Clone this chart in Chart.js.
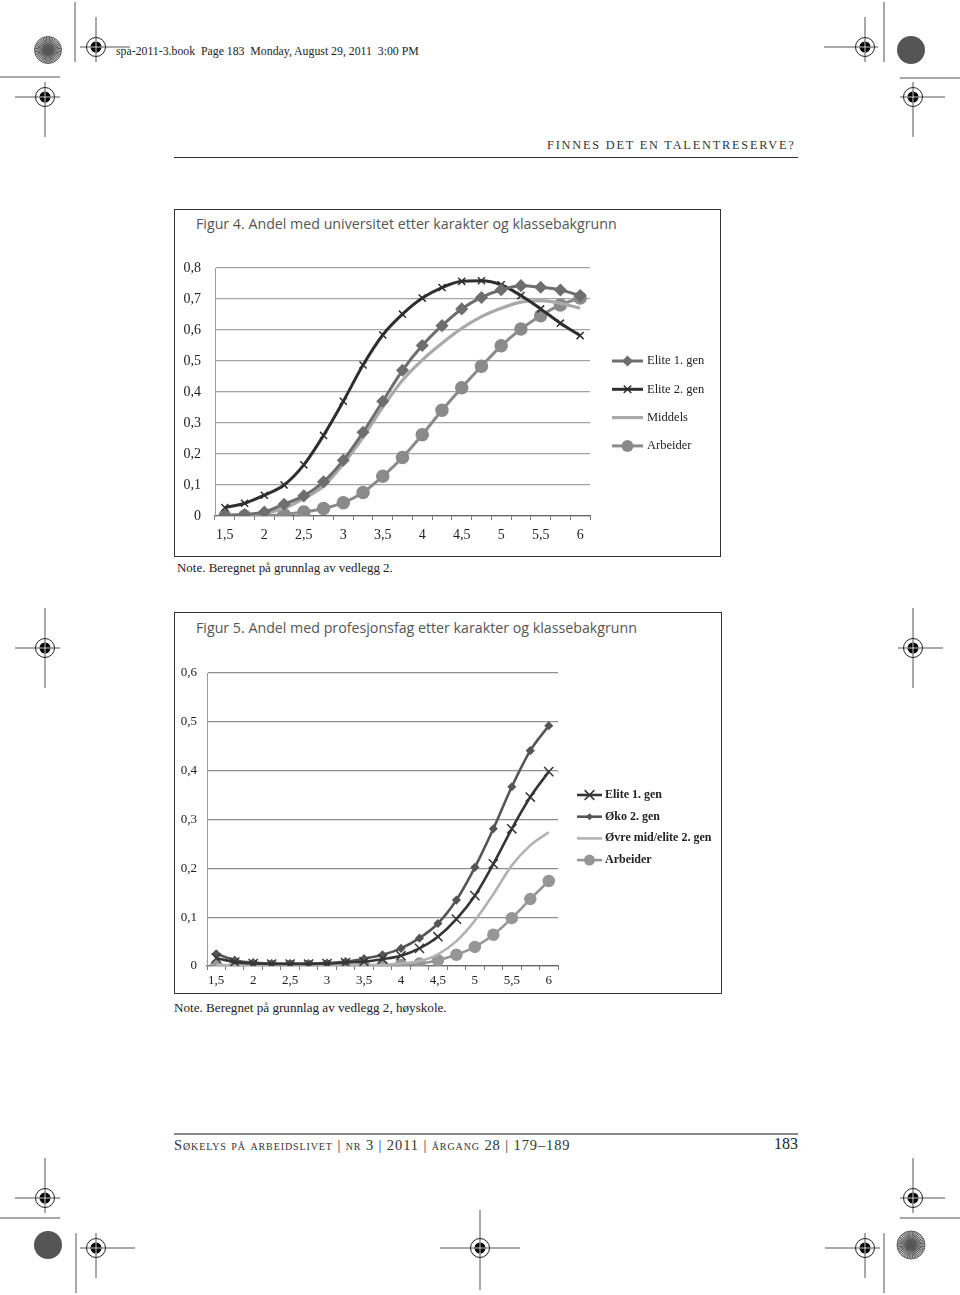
<!DOCTYPE html>
<html>
<head>
<meta charset="utf-8">
<script src="https://cdn.jsdelivr.net/npm/chart.js@4/dist/chart.umd.min.js"></script>
<style>
  html,body{margin:0;padding:0;background:#fff;}
  #page{position:relative;width:960px;height:1295px;overflow:hidden;background:#fff;}
  .t{position:absolute;white-space:pre;line-height:1;display:inline-block;}
  .serif{font-family:"Liberation Serif","DejaVu Serif",serif;color:#222;}
  .sans{font-family:"Open Sans","Liberation Sans",sans-serif;color:#555;}
  .box{position:absolute;border:1px solid #333;box-sizing:border-box;}
  .rule{position:absolute;height:0;}
  canvas{position:absolute;}
  svg{position:absolute;left:0;top:0;}
</style>
</head>
<body>
<div id="page">
  <svg id="marks" width="960" height="1295"></svg>

  <span class="t serif" id="hdr" data-x="116" data-cy="53" data-w="303" style="font-size:12px;">spa-2011-3.book  Page 183  Monday, August 29, 2011  3:00 PM</span>
  <span class="t serif" id="run" data-x="547" data-cy="146" data-w="250" style="font-size:12px;letter-spacing:1.8px;color:#333;">FINNES DET EN TALENTRESERVE?</span>
  <div class="rule" style="left:174px;top:157px;width:624px;border-top:1px solid #333;"></div>

  <div class="box" style="left:174px;top:209px;width:547px;height:348px;"></div>
  <span class="t sans" data-x="196" data-cy="225" data-w="421" style="font-size:15px;">Figur 4. Andel med universitet etter karakter og klassebakgrunn</span>
  <canvas id="c1" style="left:175px;top:240px;width:544px;height:312px;" width="544" height="312"></canvas>
  <span class="t serif" data-x="177" data-cy="569" data-w="216" style="font-size:13px;">Note. Beregnet på grunnlag av vedlegg 2.</span>

  <div class="box" style="left:174px;top:612px;width:548px;height:382px;"></div>
  <span class="t sans" data-x="196" data-cy="629" data-w="441" style="font-size:15px;">Figur 5. Andel med profesjonsfag etter karakter og klassebakgrunn</span>
  <canvas id="c2" style="left:175px;top:645px;width:545px;height:346px;" width="545" height="346"></canvas>
  <span class="t serif" data-x="174" data-cy="1009" data-w="273" style="font-size:13px;">Note. Beregnet på grunnlag av vedlegg 2, høyskole.</span>

  <div class="rule" style="left:174px;top:1133px;width:624px;border-top:2px solid #888;"></div>
  <span class="t serif" data-x="174" data-cy="1146" data-w="403" style="font-size:13px;letter-spacing:0.9px;font-variant:small-caps;color:#333;">Søkelys på arbeidslivet | nr 3 | 2011 | årgang 28 | 179–189</span>
  <span class="t serif" data-x="774" data-cy="1145" data-w="24" style="font-size:16px;color:#222;">183</span>
</div>

<script>
// ---------- DATA ----------
const grades = ['1,5','1,75','2','2,25','2,5','2,75','3','3,25','3,5','3,75','4','4,25','4,5','4,75','5','5,25','5,5','5,75','6'];
const yTicks1 = [0,0.1,0.2,0.3,0.4,0.5,0.6,0.7,0.8];
const yTicks2 = [0,0.1,0.2,0.3,0.4,0.5,0.6];

// Figur 4 (universitet)
const fig4Labels = ['Elite 1. gen','Elite 2. gen','Middels','Arbeider'];
const fig4Elite1 = [0.002,0.005,0.013,0.038,0.065,0.110,0.180,0.270,0.370,0.470,0.550,0.614,0.668,0.705,0.730,0.743,0.738,0.729,0.711];
const fig4Elite2 = [0.027,0.041,0.067,0.100,0.165,0.260,0.370,0.487,0.584,0.651,0.703,0.737,0.757,0.759,0.746,0.711,0.668,0.622,0.582];
const fig4Middels = [0.002,0.004,0.009,0.025,0.056,0.097,0.168,0.254,0.351,0.438,0.503,0.557,0.605,0.643,0.670,0.690,0.695,0.686,0.670];
const fig4Arbeider = [0.000,0.000,0.000,0.005,0.013,0.024,0.043,0.076,0.128,0.189,0.262,0.341,0.414,0.483,0.549,0.603,0.646,0.681,0.703];

// Figur 5 (profesjonsfag)
const fig5Labels = ['Elite 1. gen','Øko 2. gen','Øvre mid/elite 2. gen','Arbeider'];
const fig5Elite1 = [0.016,0.008,0.005,0.004,0.004,0.004,0.005,0.007,0.009,0.014,0.021,0.036,0.060,0.096,0.144,0.209,0.281,0.346,0.398];
const fig5Oko2 = [0.025,0.012,0.007,0.005,0.005,0.005,0.006,0.009,0.015,0.023,0.036,0.057,0.087,0.135,0.202,0.281,0.367,0.441,0.492];
const fig5Ovre = [0.002,0.002,0.002,0.002,0.002,0.002,0.002,0.002,0.002,0.003,0.005,0.010,0.024,0.051,0.093,0.147,0.206,0.247,0.274];
const fig5Arbeider = [0.000,0.000,0.000,0.000,0.000,0.000,0.000,0.000,0.000,0.000,0.002,0.005,0.012,0.023,0.039,0.064,0.098,0.137,0.174];

// ---------- page text fitting ----------
document.querySelectorAll('.t').forEach(el=>{
  const w = parseFloat(el.dataset.w);
  const fs = parseFloat(el.style.fontSize);
  const cur = el.getBoundingClientRect().width;
  if (cur>0) el.style.fontSize = (fs*w/cur).toFixed(2)+'px';
  const h = el.getBoundingClientRect().height;
  el.style.left = el.dataset.x+'px';
  el.style.top = (parseFloat(el.dataset.cy)-h/2-1)+'px';
});

// ---------- registration marks ----------
(function(){
  const svg = document.getElementById('marks');
  const NS='http://www.w3.org/2000/svg';
  function add(tag, attrs){const e=document.createElementNS(NS,tag);for(const k in attrs)e.setAttribute(k,attrs[k]);svg.appendChild(e);return e;}
  function line(x1,y1,x2,y2){add('line',{x1,y1,x2,y2,stroke:'#555','stroke-width':1});}
  function target(cx,cy,h1,h2,v1,v2){
    line(h1,cy,h2,cy); line(cx,v1,cx,v2);
    add('circle',{cx,cy,r:9.5,fill:'none',stroke:'#222','stroke-width':1});
    add('circle',{cx,cy,r:5.5,fill:'#000'});
    add('line',{x1:cx-5.5,y1:cy,x2:cx+5.5,y2:cy,stroke:'#fff','stroke-width':0.8});
    add('line',{x1:cx,y1:cy-5.5,x2:cx,y2:cy+5.5,stroke:'#fff','stroke-width':0.8});
  }
  function star(cx,cy,r){
    add('circle',{cx,cy,r,fill:'#ddd',stroke:'#666','stroke-width':1});
    for(let i=0;i<48;i++){const a=i*Math.PI/24;line(cx,cy,cx+r*Math.cos(a),cy+r*Math.sin(a));}
  }
  function dot(cx,cy,r){add('circle',{cx,cy,r,fill:'#555'});}
  star(48,50,13.5); line(75,2,75,62); line(0,77,60,77);
  target(96,47,80,130,17,62); target(45,97,15,60,82,137);
  target(865,47,824,878,17,62); line(884,2,884,62); dot(911,50,14);
  line(900,78,960,78); target(913,97,900,945,82,137);
  target(45,648,15,60,608,688); target(913,648,898,943,608,688);
  target(45,1198,15,60,1158,1213); line(0,1218,60,1218); dot(48,1245,14);
  line(76,1233,76,1293); target(96,1248,80,135,1233,1278);
  target(480,1248,440,520,1210,1290);
  target(865,1248,825,880,1233,1278); line(884,1233,884,1293); star(911,1245,14);
  line(900,1218,960,1218); target(913,1198,900,945,1158,1213);
})();

// ---------- chart helpers ----------
function drawMarker(ctx, style, r, x, y, fill, stroke){
  ctx.save();
  ctx.fillStyle = fill; ctx.strokeStyle = stroke; ctx.lineWidth = 1.5;
  ctx.beginPath();
  if (style==='circle'){ ctx.arc(x,y,r,0,Math.PI*2); ctx.fill(); }
  else if (style==='rectRot'){ ctx.moveTo(x,y-r);ctx.lineTo(x+r,y);ctx.lineTo(x,y+r);ctx.lineTo(x-r,y);ctx.closePath();ctx.fill(); }
  else if (style==='crossRot'){ const d=r*0.75; ctx.moveTo(x-d,y-d);ctx.lineTo(x+d,y+d);ctx.moveTo(x+d,y-d);ctx.lineTo(x-d,y+d);ctx.stroke(); }
  ctx.restore();
}
const sideLegend = {
  id:'sideLegend',
  afterDraw(chart, args, o){
    const ctx = chart.ctx;
    chart.data.datasets.forEach((ds,i)=>{
      const y = o.y + i*o.gap;
      ctx.save();
      ctx.strokeStyle = ds.borderColor; ctx.lineWidth = ds.borderWidth;
      ctx.beginPath(); ctx.moveTo(o.x,y); ctx.lineTo(o.x+o.len,y); ctx.stroke();
      if (ds.pointRadius>0) drawMarker(ctx, ds.pointStyle, ds.pointRadius, o.x+o.len/2, y, ds.pointBackgroundColor, ds.pointBorderColor);
      ctx.fillStyle = o.color; ctx.font = o.font; ctx.textBaseline='middle'; ctx.textAlign='left';
      ctx.fillText(ds.label, o.x+o.len+o.textGap, y);
      ctx.restore();
    });
  }
};
function fmt(v){ return v===0 ? '0' : v.toFixed(1).replace('.',','); }
function ds(label, data, color, width, style, radius){
  return {label, data, borderColor:color, backgroundColor:color, borderWidth:width,
    pointStyle:style||'circle', pointRadius:radius||0, pointHoverRadius:radius||0,
    pointBackgroundColor:color, pointBorderColor:color, pointBorderWidth:1.5,
    cubicInterpolationMode:'monotone', fill:false};
}
function makeChart(id, datasets, yTicks, L){
  const yMax = yTicks[yTicks.length-1];
  return new Chart(document.getElementById(id), {
    type:'line',
    data:{labels:grades, datasets},
    plugins:[sideLegend],
    options:{
      responsive:false, animation:false, devicePixelRatio:1,
      layout:{padding:{top:L.padTop,right:L.padRight,left:0,bottom:0}},
      plugins:{legend:{display:false}, tooltip:{enabled:false}, sideLegend:L.legend},
      scales:{
        x:{type:'category', offset:true,
           grid:{display:true, drawOnChartArea:false, drawTicks:true, tickLength:4, color:'#777', offset:true},
           border:{display:true, color:'#666', width:1.2},
           ticks:{autoSkip:false, maxRotation:0, padding:L.xPad, color:'#222',
                  font:{family:'"Liberation Serif", serif', size:L.tickSize},
                  callback:(v,i)=> i%2===0 ? grades[i] : ''},
           afterFit:s=>{s.height=L.xH;}},
        y:{min:0, max:yMax,
           afterBuildTicks:s=>{s.ticks = yTicks.map(v=>({value:v}));},
           grid:{color:L.gridColor, lineWidth:1.3, drawTicks:false},
           border:{display:true, color:'#999', width:1},
           ticks:{padding:L.yPad, color:'#222', font:{family:'"Liberation Serif", serif', size:L.tickSize}, callback:v=>fmt(v)},
           afterFit:s=>{s.width=L.yW;}}
      }
    }
  });
}

// Figur 4
makeChart('c1', [
  ds(fig4Labels[0], fig4Elite1, '#6e6e6e', 3, 'rectRot', 5.5),
  ds(fig4Labels[1], fig4Elite2, '#2e2e2e', 3, 'crossRot', 5),
  ds(fig4Labels[2], fig4Middels, '#a9a9a9', 3.2, 'circle', 0),
  ds(fig4Labels[3], fig4Arbeider, '#8a8a8a', 3, 'circle', 6)
], yTicks1, {padTop:28, padRight:129, xH:36, yW:40, xPad:7, yPad:14, tickSize:14, gridColor:'#a3a3a3',
  legend:{x:437, y:121, gap:28.3, len:31, textGap:4, color:'#222', font:'12.5px "Liberation Serif", serif'}});

// Figur 5
makeChart('c2', [
  ds(fig5Labels[0], fig5Elite1, '#363636', 2.6, 'crossRot', 6.5),
  ds(fig5Labels[1], fig5Oko2, '#555555', 2.6, 'rectRot', 3.5),
  ds(fig5Labels[2], fig5Ovre, '#b2b2b2', 2.6, 'circle', 0),
  ds(fig5Labels[3], fig5Arbeider, '#969696', 2.6, 'circle', 5.5)
], yTicks2, {padTop:28, padRight:162, xH:25, yW:32, xPad:3, yPad:10, tickSize:13, gridColor:'#8e8e8e',
  legend:{x:402, y:150, gap:21.7, len:25, textGap:3, color:'#222', font:'bold 12px "Liberation Serif", serif'}});
</script>
</body>
</html>
